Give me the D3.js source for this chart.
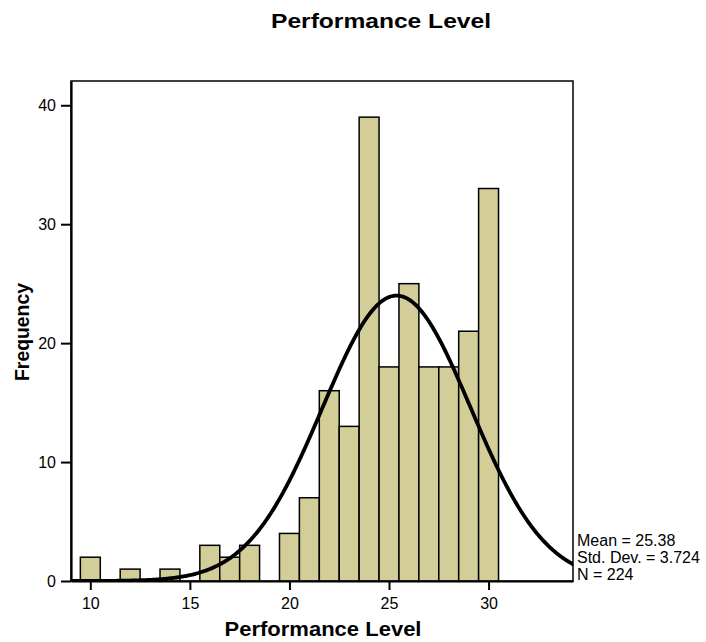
<!DOCTYPE html>
<html>
<head>
<meta charset="utf-8">
<script src="https://cdn.jsdelivr.net/npm/d3@7"></script>
<style>
body { margin:0; background:#fff; }
text { font-family:"Liberation Sans", Arial, sans-serif; }
</style>
</head>
<body>
<script>
// Performance level scores (bin centres) and frequencies
const scores = [10,11,12,13,14,15,16,17,18,19,20,21,22,23,24,25,26,27,28,29,30];
const counts = [2,0,1,0,1,0,3,2,3,0,4,7,16,13,39,18,25,18,18,21,33];
const xTicks = [10,15,20,25,30];
const yTicks = [0,10,20,30,40];
const stats = ["Mean = 25.38", "Std. Dev. = 3.724", "N = 224"];
const mean = 25.38, sd = 3.724, n = 224;

const width = 706;
const height = 642;
const plot = {left:71, right:573, top:81, bottom:581};

const svg = d3.select("body")
.append("svg")
.attr("width", width)
.attr("height", height);

// scales
const x = d3.scaleLinear()
.domain([9.03, 34.24])
.range([plot.left, plot.right]);

const y = d3.scaleLinear()
.domain([0, 42.04])
.range([plot.bottom, plot.top]);

// frame
svg.append("rect")
.attr("x", plot.left)
.attr("y", plot.top)
.attr("width", plot.right - plot.left)
.attr("height", plot.bottom - plot.top)
.attr("fill", "none")
.attr("stroke", "#000")
.attr("stroke-width", 1.5);

// bars
const bins = scores.map(function(s, i){ return {score:s, count:counts[i]}; })
.filter(function(d){ return d.count > 0; });

svg.selectAll("rect.bar")
.data(bins)
.enter()
.append("rect")
.attr("class", "bar")
.attr("x", function(d){ return x(d.score - 0.5); })
.attr("y", function(d){ return y(d.count); })
.attr("width", function(d){ return x(d.score + 0.5) - x(d.score - 0.5); })
.attr("height", function(d){ return y(0) - y(d.count); })
.attr("fill", "#d3ce97")
.attr("stroke", "#000")
.attr("stroke-width", 1.5);

// normal curve from mean / sd
svg.append("clipPath").attr("id", "clip")
.append("rect")
.attr("x", plot.left).attr("y", plot.top)
.attr("width", plot.right - plot.left).attr("height", plot.bottom - plot.top);

const curvePts = d3.range(x.domain()[0], x.domain()[1] + 0.05, 0.05).map(function(v){
const z = (v - mean) / sd;
return [v, n * Math.exp(-0.5 * z * z) / (sd * Math.sqrt(2 * Math.PI))];
});

svg.append("path")
.datum(curvePts)
.attr("clip-path", "url(#clip)")
.attr("fill", "none")
.attr("stroke", "#000")
.attr("stroke-width", 3.8)
.attr("d", d3.line()
.x(function(d){ return x(d[0]); })
.y(function(d){ return y(d[1]); }));

// axes
const xAxis = d3.axisBottom(x)
.tickValues(xTicks)
.tickSize(9)
.tickPadding(8)
.tickSizeOuter(0);

const yAxis = d3.axisLeft(y)
.tickValues(yTicks)
.tickSize(10)
.tickPadding(5)
.tickSizeOuter(0);

const gx = svg.append("g")
.attr("transform", "translate(0," + plot.bottom + ")")
.call(xAxis);

const gy = svg.append("g")
.attr("transform", "translate(" + plot.left + ",0)")
.call(yAxis);

[gx, gy].forEach(function(g){
g.select(".domain").attr("stroke-width", 2.2);
g.selectAll(".tick line").attr("stroke-width", 2);
g.selectAll(".tick text")
.attr("font-size", "16px")
.attr("font-family", "'Liberation Sans', Arial, sans-serif")
.attr("fill", "#000");
});

// title
svg.append("text")
.attr("x", 381)
.attr("y", 28)
.attr("text-anchor", "middle")
.attr("font-size", "21px")
.attr("font-weight", "bold")
.attr("textLength", 220)
.attr("lengthAdjust", "spacingAndGlyphs")
.text("Performance Level");

// x label
svg.append("text")
.attr("x", 323)
.attr("y", 636)
.attr("text-anchor", "middle")
.attr("font-size", "20px")
.attr("font-weight", "bold")
.attr("textLength", 197)
.attr("lengthAdjust", "spacingAndGlyphs")
.text("Performance Level");

// y label
svg.append("text")
.attr("transform", "rotate(-90)")
.attr("x", -332)
.attr("y", 29)
.attr("text-anchor", "middle")
.attr("font-size", "21px")
.attr("font-weight", "bold")
.attr("textLength", 98)
.attr("lengthAdjust", "spacingAndGlyphs")
.text("Frequency");

// summary statistics
svg.selectAll("text.stat")
.data(stats)
.enter()
.append("text")
.attr("class", "stat")
.attr("x", 577)
.attr("y", function(d, i){ return 546 + i * 17; })
.attr("font-size", "16px")
.text(function(d){ return d; });
</script>
</body>
</html>
